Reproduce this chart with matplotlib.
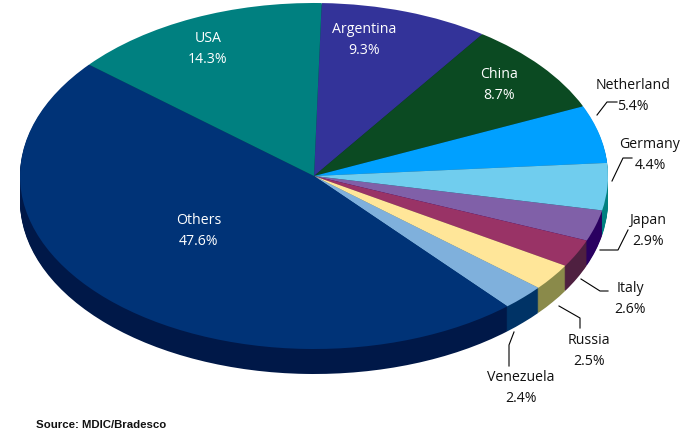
import numpy as np
import matplotlib
matplotlib.use("Agg")
import matplotlib.pyplot as plt

countries = ["Argentina", "China", "Netherland", "Germany", "Japan", "Italy",
             "Russia", "Venezuela", "Others", "USA"]
shares = [9.3, 8.7, 5.4, 4.4, 2.9, 2.6, 2.5, 2.4, 47.6, 14.3]
top_colors = ["#333399", "#0B4A22", "#00A0FF", "#70CDEE", "#8060A8", "#993366",
              "#FFE699", "#7FB0DC", "#003377", "#008080"]
side_colors = ["#1A1A4D", "#052511", "#005080", "#008080", "#2A0060", "#4F2040",
               "#8A8A4A", "#003366", "#001848", "#004040"]
# label anchor (pixel centre), text colour
label_pos = {
    "Argentina": (364, 40, "white"), "China": (499, 85, "white"),
    "Netherland": (633, 96, "#111111"), "Germany": (650, 155, "#111111"),
    "Japan": (648, 231, "#111111"), "Italy": (630, 299, "#111111"),
    "Russia": (589, 351, "#111111"), "Venezuela": (521, 388, "#111111"),
    "Others": (199, 231, "white"), "USA": (208, 49, "white"),
}
leaders = [
    [(597, 115), (607, 102), (617, 102)],
    [(612, 181), (623, 158), (632, 158)],
    [(600, 250), (618, 250), (628, 230)],
    [(581, 279), (600, 291), (608, 291)],
    [(559, 306), (580, 318), (580, 328)],
    [(514, 332), (509, 345), (509, 366)],
]

W, H = 685, 442
CX, CY, RX, RY, DEPTH = 314, 176, 294, 173, 25

fig = plt.figure(figsize=(W / 100, H / 100), dpi=100, facecolor="white")
ax = fig.add_axes([0, 0, 1, 1])

for d in np.arange(DEPTH, 0, -1.0):
    ax.pie(shares, colors=side_colors, startangle=88.5, counterclock=False,
           center=(0, -d / RY), radius=1, wedgeprops=dict(linewidth=0.6, antialiased=True, edgecolor="none"))
ax.pie(shares, colors=top_colors, startangle=88.5, counterclock=False,
       center=(0, 0), radius=1, wedgeprops=dict(linewidth=0))
ax.set_aspect("auto")
ax.set_xlim(-CX / RX, (W - CX) / RX)
ax.set_ylim((CY - H) / RY, CY / RY)
ax.axis("off")

ov = fig.add_axes([0, 0, 1, 1], facecolor="none")
ov.set_xlim(0, W)
ov.set_ylim(H, 0)
ov.axis("off")
for pts in leaders:
    xs, ys = zip(*pts)
    ov.plot(xs, ys, color="black", lw=0.8)
for name, share in zip(countries, shares):
    x, y, col = label_pos[name]
    ov.text(x, y, f"{name}\n{share}%", color=col, ha="center", va="center",
            fontsize=10.2, family="Open Sans", linespacing=1.55)
ov.text(36, 425.5, "Source: MDIC/Bradesco", fontsize=8.2, fontweight="bold",
        family="Liberation Sans", color="#111111", ha="left", va="center")

fig.savefig("out.png", dpi=100, facecolor="white")
